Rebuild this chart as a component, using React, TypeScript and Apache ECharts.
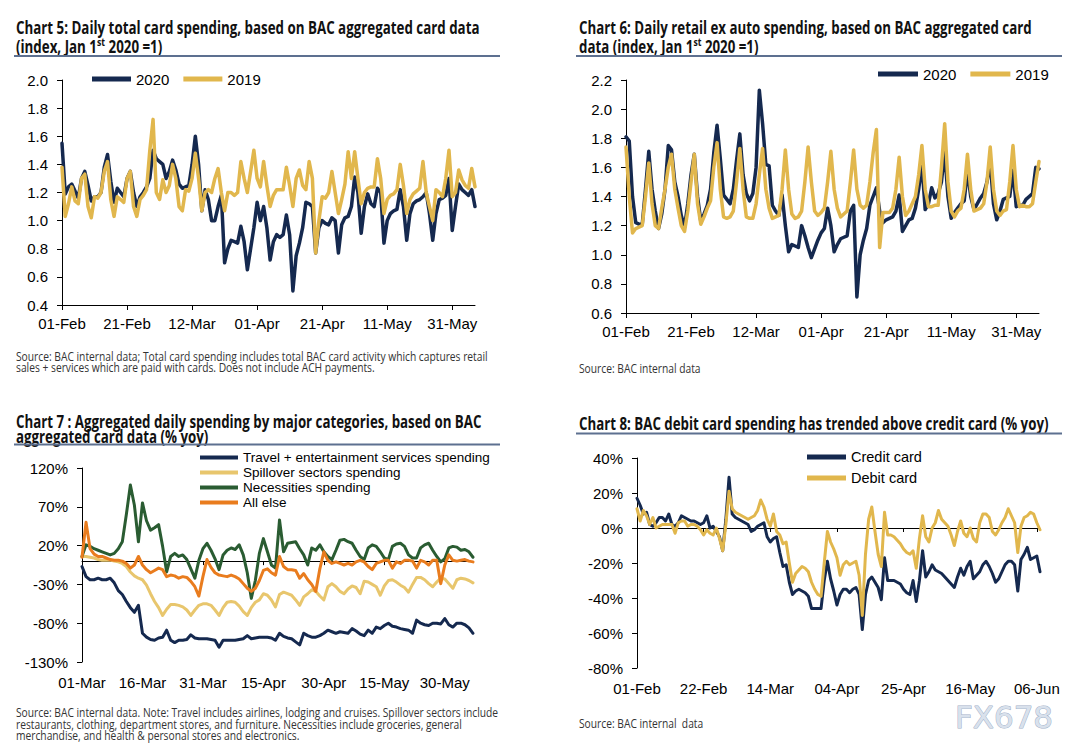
import React, { useEffect, useRef } from "react";
import * as echarts from "echarts";

// ---------------- categories (daily dates) ----------------
const MONTHS = ["Jan", "Feb", "Mar", "Apr", "May", "Jun", "Jul", "Aug", "Sep", "Oct", "Nov", "Dec"];
function dayLabels(month: number, day: number, count: number): string[] {
  const out: string[] = [];
  const d = new Date(Date.UTC(2020, month, day));
  for (let i = 0; i < count; i++) {
    out.push(String(d.getUTCDate()).padStart(2, "0") + "-" + MONTHS[d.getUTCMonth()]);
    d.setUTCDate(d.getUTCDate() + 1);
  }
  return out;
}
const c5Dates = dayLabels(1, 1, 128); // 01-Feb .. 07-Jun
const c6Dates = dayLabels(1, 1, 128);
const c7Dates = dayLabels(2, 1, 98); // 01-Mar .. 06-Jun
const c8Dates = dayLabels(1, 1, 128);

// ---------------- value-axis ticks ----------------
const c5YTicks = [0.4, 0.6, 0.8, 1.0, 1.2, 1.4, 1.6, 1.8, 2.0];
const c6YTicks = [0.6, 0.8, 1.0, 1.2, 1.4, 1.6, 1.8, 2.0, 2.2];
const c7YTicks = [-130, -80, -30, 20, 70, 120];
const c8YTicks = [-80, -60, -40, -20, 0, 20, 40];

// ---------------- Chart 5: total card spending index ----------------
const c5_2020 = [
  1.55, 1.19, 1.24, 1.26, 1.21, 1.16, 1.3, 1.35, 1.25, 1.14,
  1.17, 1.17, 1.2, 1.38, 1.47, 1.28, 1.13, 1.23, 1.2, 1.17,
  1.3, 1.35, 1.2, 1.1, 1.17, 1.2, 1.24, 1.3, 1.5, 1.44,
  1.42, 1.4, 1.3, 1.35, 1.43, 1.36, 1.26, 1.23, 1.24, 1.25,
  1.4, 1.6, 1.4, 1.07, 1.22, 1.15, 1.0, 1.0, 1.1, 1.18,
  0.7, 0.8, 0.86, 0.85, 0.84, 0.96, 0.85, 0.65, 0.8, 0.95,
  1.13, 1.0, 1.1, 0.95, 0.72, 0.85, 0.9, 0.88, 0.9, 1.04,
  0.9, 0.5, 0.75, 0.84, 0.95, 1.13, 1.12, 1.1, 0.77, 0.95,
  1.0, 0.98, 0.97, 1.02, 1.0, 0.77, 0.97, 1.02, 1.03, 1.1,
  1.31, 1.2, 0.91, 1.1, 1.19, 1.12, 1.1, 1.23, 1.2, 0.84,
  1.0, 1.05, 1.07, 1.08, 1.22, 1.1, 0.86, 1.05, 1.12, 1.14,
  1.15, 1.17, 1.2, 1.05, 0.86, 1.05, 1.15, 1.16, 1.18, 1.3,
  0.93, 1.1, 1.26, 1.22, 1.2, 1.18, 1.22, 1.1,
];
const c5_2019 = [
  1.38, 1.03, 1.12, 1.24, 1.14, 1.12, 1.3, 1.33, 1.1, 1.02,
  1.17, 1.16, 1.2, 1.35, 1.42, 1.15, 1.03, 1.17, 1.15, 1.13,
  1.3, 1.35, 1.1, 1.03, 1.15, 1.18, 1.22, 1.5, 1.72, 1.2,
  1.15, 1.29, 1.2, 1.25, 1.4, 1.3, 1.1, 1.07, 1.22, 1.21,
  1.3, 1.48, 1.3, 1.07, 1.2, 1.22, 1.2, 1.3, 1.37, 1.2,
  1.07, 1.2, 1.2, 1.18, 1.2, 1.42, 1.3, 1.2, 1.35, 1.5,
  1.3, 1.24, 1.42, 1.25, 1.1, 1.18, 1.22, 1.22, 1.22, 1.38,
  1.25, 1.1, 1.3, 1.36, 1.25, 1.22, 1.42, 1.3, 0.77, 1.0,
  1.17, 1.16, 1.2, 1.35, 1.2, 1.05, 1.15, 1.26, 1.49, 1.3,
  1.49, 1.3, 1.12, 1.2, 1.23, 1.24, 1.24, 1.44, 1.3, 1.05,
  1.15, 1.18, 1.19, 1.22, 1.4, 1.25, 1.05, 1.15, 1.19, 1.21,
  1.23, 1.42, 1.2, 1.1, 1.0, 1.22, 1.2, 1.17, 1.3, 1.5,
  1.17, 1.2, 1.36, 1.29, 1.25, 1.23, 1.37, 1.24,
];

// ---------------- Chart 6: retail ex auto index ----------------
const c6_2020 = [
  1.81, 1.78, 1.4, 1.22, 1.21, 1.21, 1.45, 1.71, 1.45, 1.3,
  1.18, 1.28, 1.45, 1.75, 1.72, 1.5, 1.4, 1.27, 1.19, 1.35,
  1.55, 1.69, 1.4, 1.23, 1.28, 1.34, 1.45, 1.7, 1.89, 1.66,
  1.41, 1.38, 1.35, 1.45, 1.65, 1.83, 1.55, 1.42, 1.37, 1.42,
  1.6, 2.13, 1.9, 1.62, 1.61, 1.34, 1.3, 1.27, 1.41, 1.2,
  1.02, 1.07, 1.06, 1.05, 1.2, 1.13, 1.05, 0.98, 1.04, 1.1,
  1.15, 1.18, 1.32, 1.2, 1.02, 1.07, 1.11, 1.12, 1.13, 1.3,
  1.34, 0.71, 1.0, 1.1, 1.18, 1.34, 1.4, 1.46, 1.3, 1.22,
  1.24, 1.25, 1.26, 1.3, 1.41, 1.16, 1.2, 1.24, 1.25, 1.32,
  1.45, 1.62, 1.31, 1.35, 1.46, 1.39, 1.42, 1.5, 1.71, 1.4,
  1.25, 1.29, 1.32, 1.35, 1.37, 1.58, 1.4, 1.31, 1.35, 1.39,
  1.42, 1.5, 1.64, 1.35, 1.24, 1.3, 1.38, 1.39, 1.4, 1.58,
  1.33, 1.34, 1.34, 1.38, 1.4, 1.42, 1.6, 1.59,
];
const c6_2019 = [
  1.74, 1.4, 1.15, 1.18, 1.19, 1.2, 1.4, 1.63, 1.35, 1.2,
  1.18, 1.32, 1.45, 1.6, 1.69, 1.45, 1.32, 1.2, 1.16, 1.3,
  1.5, 1.69, 1.35, 1.21, 1.26, 1.32, 1.37, 1.6, 1.77, 1.45,
  1.26, 1.25, 1.26, 1.3, 1.5, 1.73, 1.45, 1.26, 1.25, 1.25,
  1.35, 1.55, 1.73, 1.45, 1.32, 1.25, 1.26, 1.27, 1.45, 1.72,
  1.45, 1.28, 1.25, 1.26, 1.3, 1.5, 1.74, 1.5, 1.3, 1.27,
  1.29, 1.32, 1.5, 1.71, 1.45, 1.32, 1.26, 1.28, 1.3, 1.5,
  1.72, 1.45, 1.34, 1.32, 1.34, 1.5, 1.7, 1.86, 1.05, 1.29,
  1.29, 1.29, 1.32, 1.45, 1.67, 1.4, 1.27, 1.3, 1.35, 1.4,
  1.55, 1.75, 1.45, 1.33, 1.33, 1.34, 1.34, 1.6, 1.9, 1.5,
  1.3, 1.26, 1.3, 1.32, 1.45, 1.69, 1.45, 1.3, 1.31, 1.32,
  1.35, 1.5, 1.74, 1.45, 1.3, 1.27, 1.3, 1.31, 1.5, 1.75,
  1.45, 1.33, 1.34, 1.33, 1.33, 1.35, 1.5, 1.64,
];

// ---------------- Chart 7: spending by category (% yoy) ----------------
const c7_travel = [
  -7, -20, -24, -24, -22, -24, -24, -22, -28, -38,
  -43, -52, -60, -66, -57, -93, -98, -101, -102, -99,
  -98, -89, -102, -105, -102, -102, -101, -95, -99, -100,
  -100, -100, -101, -102, -111, -102, -102, -102, -102, -101,
  -100, -96, -100, -99, -98, -98, -98, -99, -102, -93,
  -97, -99, -100, -104, -108, -93, -96, -98, -98, -96,
  -93, -89, -91, -93, -91, -92, -93, -87, -90, -94,
  -96, -89, -93, -85, -87, -83, -80, -84, -85, -87,
  -88, -89, -93, -76, -80, -82, -83, -80, -80, -81,
  -74, -82, -85, -80, -80, -82, -86, -93,
];
const c7_spillover = [
  6, 6, 5, 4, 2, 1, 1, 1.5, 0, -1,
  -3, -7, -14, -19, -22, -24, -31, -42, -52, -60,
  -70, -62, -56, -56, -57, -59, -63, -70, -63, -57,
  -55, -55, -57, -63, -70, -60, -53, -52, -53, -58,
  -65, -70, -60, -53, -50, -42, -44, -50, -59, -43,
  -40, -42, -44, -50, -57, -46, -42, -37, -39, -45,
  -50, -33, -29, -33, -39, -42, -36, -32, -34, -42,
  -26, -27, -30, -33, -44, -32, -25, -24, -27, -31,
  -34, -40, -30, -21, -21, -24, -29, -33, -27, -22,
  -23, -29, -35, -24, -22, -23, -25, -28,
];
const c7_necessities = [
  6, 21, 19, 16, 14, 12, 10, 8, 10, 16,
  25, 60, 98, 72, 25, 75, 52, 40, 43, 47,
  19, -14, 6, 10, 6, 8, 2, -10, -22, 1,
  16, 23, 14, 3, -11, 8, 14, 17, 15, 21,
  8, -15, -48, -25, 10, 29, 12, -5, -9, 53,
  12, 23, 24, 25, 16, 8, -5, 17, 14, 21,
  12, 6, 2, 14, 27, 28, 25, 23, 14, 6,
  2, 17, 21, 19, 12, 4, 2, 19, 22, 23,
  19, 8, 4, 4, 17, 21, 23, 14, 6, -1,
  3, 17, 19, 18, 14, 15, 12, 5,
];
const c7_allElse = [
  5, 50, 16, 9, 6, 6, 4, 2, 1, 1,
  0, -3, -9, -5, 6, -5, -11, -15, -12, -9,
  -11, -20, -18, -19, -22, -20, -21, -26, -33, -45,
  -20, 2, -8, -15, -18, -19, -20, -18, -20, -23,
  -29, -35, -39, -35, -25, -12, -10, -15, -18, 6,
  -7, -11, -11, -12, -22, -16, -24, -30, -39, -10,
  12, 1, -3, -1, -3, -5, -3, -5, -1, 1,
  -1, -7, -11, -3, -1, 1, 1, -9, -1, -3,
  1, 1, 0, -9, 1, -1, -5, 1, 1, -29,
  -5, 8, 1, 0, 1, 2, 0, -1,
];

// ---------------- Chart 8: credit vs debit (% yoy) ----------------
const c8_credit = [
  17, 13, 8, 9, 2, 1, 3, 6, 6, 4,
  8, 2, 1, 3, 7, 6, 5, 4, 4, 3,
  2, 3, 7, 0, 1, -2, -5, -13, 5, 29,
  8, 6, 5, 4, 3, 2, -2, -1, 1, 2,
  3, -5, -8, -6, -5, -14, -22, -21, -31, -38,
  -36, -35, -36, -37, -39, -46, -46, -46, -46, -30,
  -19, -29, -36, -44, -38, -35, -35, -37, -35, -34,
  -38, -58, -38, -30, -28, -31, -34, -41, -17, -30,
  -30, -30, -31, -32, -35, -37, -38, -30, -42, -30,
  -13, -28, -25, -21, -24, -25, -26, -28, -30, -32,
  -34, -28, -23, -27, -22, -19, -29, -27, -25, -21,
  -19, -22, -26, -31, -29, -25, -21, -19, -19, -21,
  -36, -18, -15, -11, -18, -17, -16, -25,
];
const c8_debit = [
  11, 4, 10, 7, 2, 6, 0, 1, 2, 2,
  2, 2, -3, 3, 4, 4, 1, 2, 2, 1,
  -1, -4, -1, -3, -4, 0, -6, -13, 2, 21,
  11, 9, 8, 7, 6, 5, 6, 7, 10, 16,
  12, 5, 1, 8, -2, -4, -9, -8, -20, -31,
  -26, -24, -22, -23, -25, -31, -35, -38, -39, -20,
  -2, -8, -12, -17, -27, -21, -19, -21, -20, -19,
  -27, -50, -15, 5, 12, -2, -15, -22, 9, -4,
  -4, -5, -7, -9, -12, -14, -15, -13, -23, -6,
  7, -5, -8, 0, 3, 10, 5, 3, 1, -4,
  -10, -2, 4, -3, -5, 0, -6, -8, 3, 8,
  8, 6, -2, -4, -1, 3, 6, 11, 7, 3,
  -14, 1, 6, 7, 9, 8, 3, -1,
];

// ---------------- texts ----------------
const T5a = "Chart 5: Daily total card spending, based on BAC aggregated card data";
const T5b = ["(index, Jan 1", "st", " 2020 =1)"];
const T6a = "Chart 6: Daily retail ex auto spending, based on BAC aggregated card";
const T6b = ["data (index, Jan 1", "st", " 2020 =1)"];
const T7a = "Chart 7 : Aggregated daily spending by major categories, based on BAC";
const T7b = "aggregated card data (% yoy)";
const T8a = "Chart 8: BAC debit card spending has trended above credit card (% yoy)";
const S5 = [
  "Source: BAC internal data; Total card spending includes total BAC card activity which captures retail",
  "sales + services which are paid with cards. Does not include ACH payments.",
];
const S6 = ["Source: BAC internal data"];
const S7 = [
  "Source: BAC internal data. Note: Travel includes airlines, lodging and cruises. Spillover sectors include",
  "restaurants, clothing, department stores, and furniture. Necessities include groceries, general",
  "merchandise, and health & personal stores and electronics.",
];
const S8 = ["Source: BAC internal  data"];

const NAVY = "#15294f";
const GOLD = "#e1b74d";
const LGOLD = "#e8c66d";
const GREEN = "#2a5c32";
const ORANGE = "#e97c1e";
const RULE = "#5d7090";

export default function App() {
  const ref = useRef<HTMLDivElement>(null);

  useEffect(() => {
    const el = ref.current;
    if (!el) return;
    const chart = echarts.init(el, undefined, { renderer: "svg" });

    const ctx = document.createElement("canvas").getContext("2d") as CanvasRenderingContext2D;
    const mw = (t: string, font: string) => {
      ctx.font = font;
      return ctx.measureText(t).width;
    };
    const probe = "01-Feb Wide mmm 2020";
    const narrowOK = mw(probe, "16px 'Liberation Sans Narrow', monospace") !== mw(probe, "16px monospace");
    const AX = narrowOK ? "'Liberation Sans Narrow', 'Liberation Sans', Arial, sans-serif" : "'Liberation Sans', Arial, sans-serif";
    const AXFS = narrowOK ? 16.5 : 15;
    const LFS = narrowOK ? 16.5 : 15;
    const L7FS = narrowOK ? 15 : 13.5;
    const L8FS = narrowOK ? 16.5 : 14.5;

    const TF = "'Open Sans', 'DejaVu Sans', sans-serif";
    const els: any[] = [];
    const textEl = (x: number, y: number, text: string, size: number, weight: string, family: string, sx: number, fill: string) => ({
      type: "text",
      x,
      y,
      scaleX: sx,
      silent: true,
      style: { text, fill, fontSize: size, fontWeight: weight, fontFamily: family, align: "left", verticalAlign: "middle" },
    });
    const TS = 17;
    const tfont = (sz: number) => `bold ${sz}px ${TF}`;
    const titleLine = (x: number, y: number, text: string, target: number) => {
      const sx = target / mw(text, tfont(TS));
      els.push(textEl(x, y, text, TS, "bold", TF, sx, "#111"));
      return sx;
    };
    const supLine = (x: number, y: number, parts: string[], sx: number) => {
      let cx = x;
      parts.forEach((p, i) => {
        const sup = i === 1;
        const sz = sup ? 11 : TS;
        els.push(textEl(cx, sup ? y - 4 : y, p, sz, "bold", TF, sx, "#111"));
        cx += mw(p, tfont(sz)) * sx;
      });
    };
    const rule = (x1: number, x2: number, y: number) =>
      els.push({ type: "line", silent: true, shape: { x1, y1: y, x2, y2: y }, style: { stroke: RULE, lineWidth: 2 } });

    // titles
    const s5 = titleLine(16, 27, T5a, 464);
    supLine(16, 46, T5b, s5);
    rule(14, 500, 56);
    const s6 = titleLine(579, 27, T6a, 453);
    supLine(579, 46, T6b, s6);
    rule(576, 1062, 56);
    const s7 = titleLine(16, 421.5, T7a, 466);
    els.push(textEl(16, 436, T7b, TS, "bold", TF, s7, "#111"));
    rule(14, 500, 444.5);
    titleLine(579, 423, T8a, 470);
    rule(576, 1062, 433.5);

    // sources
    const SF = 12.5;
    const sfont = `${SF}px ${TF}`;
    const ssx = 472 / mw(S5[0], sfont);
    const srcLines = (x: number, y: number, lines: string[]) =>
      lines.forEach((l, i) => els.push(textEl(x, y + i * 11.5, l, SF, "normal", TF, ssx, "#333")));
    srcLines(16, 356, S5);
    srcLines(579, 368, S6);
    srcLines(16, 712.5, S7);
    srcLines(579, 723, S8);

    // watermark
    const wf = "31px 'DejaVu Sans', sans-serif";
    const wsx = 98 / mw("FX678", wf);
    els.push({
      type: "text",
      x: 955,
      y: 717,
      scaleX: wsx,
      silent: true,
      style: {
        text: "FX678",
        fill: "#d9e1ec",
        stroke: "#9fb0c8",
        lineWidth: 1,
        fontSize: 31,
        fontFamily: "'DejaVu Sans', sans-serif",
        align: "left",
        verticalAlign: "middle",
      },
    });

    const black = "#000";
    const labelStyle = { color: black, fontFamily: AX, fontSize: AXFS };
    const catAxis = (grid: number, data: string[], interval: number) => ({
      type: "category",
      gridIndex: grid,
      data,
      boundaryGap: false,
      axisLine: { show: true, onZero: false, lineStyle: { color: black, width: 1 } },
      axisTick: { show: true, interval, length: 5, lineStyle: { color: black, width: 1 } },
      axisLabel: { ...labelStyle, interval, margin: 11 },
      splitLine: { show: false },
    });
    const labelOnlyAxis = (grid: number, data: string[], interval: number) => ({
      type: "category",
      gridIndex: grid,
      data,
      boundaryGap: false,
      axisLine: { show: false, onZero: false },
      axisTick: { show: false },
      axisLabel: { ...labelStyle, interval, margin: 13 },
      splitLine: { show: false },
    });
    const zeroAxis = (grid: number, data: string[], interval: number) => ({
      type: "category",
      gridIndex: grid,
      data,
      boundaryGap: false,
      position: "bottom",
      axisLine: { show: true, onZero: true, lineStyle: { color: black, width: 1 } },
      axisTick: { show: true, interval, length: 4, lineStyle: { color: black, width: 1 } },
      axisLabel: { show: false },
      splitLine: { show: false },
    });
    const valAxis = (grid: number, ticks: number[], step: number, fmt: (v: number) => string) => ({
      type: "value",
      gridIndex: grid,
      min: ticks[0],
      max: ticks[ticks.length - 1],
      interval: step,
      axisLine: { show: true, onZero: false, lineStyle: { color: black, width: 1 } },
      axisTick: { show: true, length: 5, lineStyle: { color: black, width: 1 } },
      axisLabel: { ...labelStyle, margin: 14, formatter: fmt },
      splitLine: { show: false },
    });
    const line = (name: string, data: number[], xi: number, yi: number, color: string, width: number) => ({
      type: "line",
      name,
      data,
      xAxisIndex: xi,
      yAxisIndex: yi,
      showSymbol: false,
      symbol: "none",
      color,
      itemStyle: { color },
      lineStyle: { color, width, join: "round", cap: "round" },
      emphasis: { disabled: true },
      silent: true,
    });
    const legendText = (fs: number, lh: number) => ({ color: black, fontFamily: AX, fontSize: fs, lineHeight: lh });

    const option: any = {
      animation: false,
      backgroundColor: "#fff",
      grid: [
        { left: 62, top: 80, width: 413, height: 225, outerBoundsMode: "none", containLabel: false },
        { left: 626, top: 80, width: 413, height: 233, outerBoundsMode: "none", containLabel: false },
        { left: 82, top: 468, width: 391, height: 194, outerBoundsMode: "none", containLabel: false },
        { left: 637, top: 458, width: 403, height: 210, outerBoundsMode: "none", containLabel: false },
      ],
      xAxis: [
        catAxis(0, c5Dates, 19),
        catAxis(1, c6Dates, 19),
        labelOnlyAxis(2, c7Dates, 14),
        zeroAxis(2, c7Dates, 14),
        labelOnlyAxis(3, c8Dates, 20),
        zeroAxis(3, c8Dates, 20),
      ],
      yAxis: [
        valAxis(0, c5YTicks, 0.2, (v: number) => v.toFixed(1)),
        valAxis(1, c6YTicks, 0.2, (v: number) => v.toFixed(1)),
        valAxis(2, c7YTicks, 50, (v: number) => `${Math.round(v)}%`),
        valAxis(3, c8YTicks, 20, (v: number) => `${Math.round(v)}%`),
      ],
      legend: [
        {
          left: 92, top: 70, padding: 0, itemWidth: 39, itemHeight: 5, itemGap: 14, icon: "rect",
          data: ["2020", "2019"], textStyle: legendText(LFS, 18), selectedMode: false,
        },
        {
          left: 878, top: 65, padding: 0, itemWidth: 40, itemHeight: 5, itemGap: 14, icon: "rect",
          data: ["2020", "2019"], textStyle: legendText(LFS, 18), selectedMode: false,
        },
        {
          left: 200, top: 450, padding: 0, orient: "vertical", itemWidth: 38, itemHeight: 4, itemGap: 0, icon: "rect",
          data: ["Travel + entertainment services spending", "Spillover sectors spending", "Necessities spending", "All else"],
          textStyle: legendText(L7FS, 15), selectedMode: false,
        },
        {
          left: 807, top: 448, padding: 0, orient: "vertical", itemWidth: 39, itemHeight: 5, itemGap: 3, icon: "rect",
          data: ["Credit card", "Debit card"], textStyle: legendText(L8FS, 18), selectedMode: false,
        },
      ],
      series: [
        line("2020", c5_2020, 0, 0, NAVY, 3.5),
        line("2019", c5_2019, 0, 0, GOLD, 3.5),
        line("2020", c6_2020, 1, 1, NAVY, 3.5),
        line("2019", c6_2019, 1, 1, GOLD, 3.5),
        line("Travel + entertainment services spending", c7_travel, 2, 2, NAVY, 3),
        line("Spillover sectors spending", c7_spillover, 2, 2, LGOLD, 3),
        line("Necessities spending", c7_necessities, 2, 2, GREEN, 3),
        line("All else", c7_allElse, 2, 2, ORANGE, 3),
        line("Credit card", c8_credit, 4, 3, NAVY, 3),
        line("Debit card", c8_debit, 4, 3, GOLD, 3),
      ],
      graphic: { elements: els },
    };

    chart.setOption(option);
    return () => chart.dispose();
  }, []);

  return (
    <div
      ref={ref}
      style={{ position: "absolute", left: 0, top: 0, width: 1085, height: 754, background: "#fff" }}
    />
  );
}
